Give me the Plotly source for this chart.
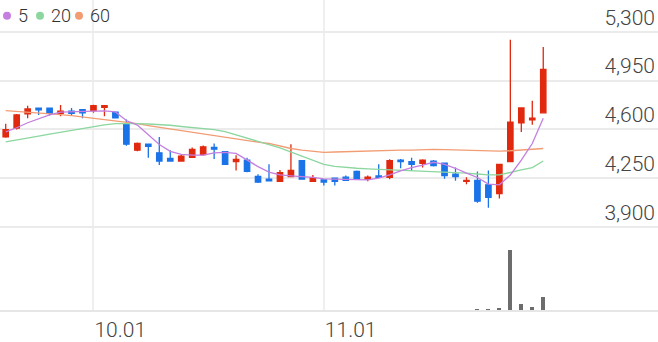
import plotly.graph_objects as go

idx = list(range(50))
opens = [4546, 4610, 4712, 4752, 4752, 4716, 4731, 4742, 4735, 4759,
         4724, 4636, 4451, 4494, 4432, 4392, 4373, 4399, 4420, 4470,
         4440, 4369, 4380, 4262, 4243, 4227, 4262, 4376, 4227, 4238,
         4250, 4257, 4298, 4243, 4266, 4255, 4380, 4369, 4357, 4373,
         4357, 4278, 4227, 4234, 4202, 4139, 4369, 4648, 4669, 4719]
highs = [4640, 4711, 4770, 4752, 4756, 4775, 4754, 4742, 4778, 4772,
         4728, 4671, 4506, 4496, 4546, 4451, 4420, 4470, 4484, 4499,
         4444, 4415, 4397, 4278, 4349, 4309, 4494, 4378, 4273, 4243,
         4252, 4269, 4305, 4269, 4349, 4385, 4387, 4397, 4385, 4380,
         4362, 4326, 4257, 4298, 4305, 4349, 5244, 4754, 4806, 5192]
lows = [4540, 4600, 4681, 4704, 4700, 4695, 4704, 4681, 4719, 4695,
        4680, 4482, 4444, 4397, 4344, 4369, 4369, 4394, 4413, 4387,
        4344, 4305, 4293, 4215, 4227, 4222, 4262, 4238, 4225, 4198,
        4198, 4232, 4238, 4227, 4255, 4243, 4321, 4302, 4326, 4333,
        4245, 4231, 4207, 4073, 4037, 4103, 4369, 4582, 4633, 4719]
closes = [4598, 4704, 4747, 4740, 4716, 4731, 4716, 4719, 4770, 4770,
          4683, 4494, 4499, 4479, 4373, 4373, 4408, 4456, 4475, 4458,
          4349, 4385, 4298, 4222, 4231, 4290, 4305, 4243, 4250, 4222,
          4227, 4234, 4243, 4257, 4255, 4376, 4369, 4349, 4380, 4340,
          4269, 4262, 4234, 4085, 4113, 4349, 4653, 4754, 4681, 5031]
volumes = [0, 0, 0, 0, 0, 0, 0, 0, 0, 0,
           0, 0, 0, 0, 0, 0, 0, 0, 0, 0,
           0, 0, 0, 0, 0, 0, 0, 0, 0, 0,
           0, 0, 0, 0, 0, 0, 0, 0, 0, 0,
           0, 0, 0, 20, 30, 150, 6100, 570, 300, 1300]
ma5 = [4582, 4612, 4648, 4676, 4704, 4724, 4728, 4731, 4731, 4733,
       4726, 4664, 4631, 4562, 4491, 4442, 4420, 4415, 4415, 4431,
       4435, 4428, 4380, 4333, 4293, 4273, 4266, 4262, 4255, 4245,
       4243, 4238, 4238, 4238, 4250, 4273, 4302, 4326, 4344, 4364,
       4349, 4321, 4286, 4255, 4207, 4202, 4273, 4380, 4499, 4681]
ma20 = [4511, 4523, 4538, 4552, 4566, 4580, 4594, 4609, 4621, 4633,
        4641, 4643, 4642, 4639, 4635, 4630, 4621, 4614, 4605, 4599,
        4584, 4562, 4538, 4515, 4491, 4468, 4438, 4404, 4374, 4349,
        4335, 4326, 4321, 4316, 4313, 4309, 4305, 4301, 4298, 4298,
        4294, 4291, 4286, 4280, 4273, 4273, 4293, 4309, 4326, 4373]
ma60 = [4735, 4730, 4724, 4719, 4713, 4706, 4699, 4690, 4681, 4672,
        4662, 4653, 4641, 4628, 4616, 4605, 4593, 4582, 4570, 4555,
        4541, 4529, 4518, 4509, 4499, 4481, 4463, 4452, 4442, 4435,
        4438, 4441, 4444, 4446, 4447, 4449, 4451, 4452, 4455, 4456,
        4455, 4452, 4451, 4449, 4446, 4444, 4447, 4451, 4457, 4463]
price_ticks = [3900, 4250, 4600, 4950, 5300]
date_tick_pos = [8, 29]
date_tick_text = ["10.01", "11.01"]
legend_labels = ["5", "20", "60"]

UP = "#e0290f"
DOWN = "#1a73e8"
C5 = "#c47fe0"
C20 = "#8cd69f"
C60 = "#f29c74"

fig = go.Figure()
fig.add_trace(go.Bar(x=idx, y=volumes, yaxis="y2", width=0.36,
                     marker=dict(color="#6c6c6c", line=dict(width=0)),
                     showlegend=False, hoverinfo="skip"))
fig.add_trace(go.Scatter(x=idx, y=ma60, mode="lines", line=dict(color=C60, width=1.3),
                         showlegend=False))
fig.add_trace(go.Scatter(x=idx, y=ma20, mode="lines", line=dict(color=C20, width=1.3),
                         showlegend=False))
fig.add_trace(go.Scatter(x=idx, y=ma5, mode="lines", line=dict(color=C5, width=1.3),
                         showlegend=False))
fig.add_trace(go.Candlestick(x=idx, open=opens, high=highs, low=lows, close=closes,
                             increasing=dict(line=dict(color=UP, width=1.3), fillcolor=UP),
                             decreasing=dict(line=dict(color=DOWN, width=1.3), fillcolor=DOWN),
                             whiskerwidth=0, showlegend=False))

W, PH = 658, 313.3
font_fam = "Roboto"
dot_cx = [7, 40, 79]
txt_x = [16, 49, 88]
for cx, tx, col, lab in zip(dot_cx, txt_x, [C5, C20, C60], legend_labels):
    r = 4
    fig.add_shape(type="circle", xref="paper", yref="paper",
                  x0=(cx - r) / W, x1=(cx + r) / W,
                  y0=1 - (16 + r) / PH, y1=1 - (16 - r) / PH,
                  fillcolor=col, line=dict(width=0))
    fig.add_annotation(x=tx / W, y=1 - 16 / PH, xref="paper", yref="paper",
                       text=lab, showarrow=False, xanchor="left", yanchor="middle",
                       font=dict(family=font_fam, size=18, color="#333", weight=300))

fig.update_layout(
    width=658, height=342,
    margin=dict(l=0, r=0, t=0, b=28.7),
    paper_bgcolor="white", plot_bgcolor="white",
    showlegend=False, bargap=0,
    xaxis=dict(range=[-0.52, 59.46], tickvals=date_tick_pos, ticktext=date_tick_text,
               showgrid=True, gridcolor="#efefef", gridwidth=2,
               showline=True, linecolor="#e6e6e6", linewidth=2,
               zeroline=False, ticks="", ticklabelposition="outside right",
               tickfont=dict(family=font_fam, size=21, color="#444", weight=300),
               rangeslider=dict(visible=False), fixedrange=True),
    yaxis=dict(range=[3303, 5529.6], tickvals=price_ticks, tickformat=",d",
               side="right", ticklabelposition="inside top",
               showgrid=True, gridcolor="#ebebeb", gridwidth=1.5,
               zeroline=False, showline=False, ticks="",
               tickfont=dict(family=font_fam, size=21, color="#444", weight=300)),
    yaxis2=dict(overlaying="y", range=[0, 31330], visible=False, showgrid=False),
)

fig.write_html("out.html")
